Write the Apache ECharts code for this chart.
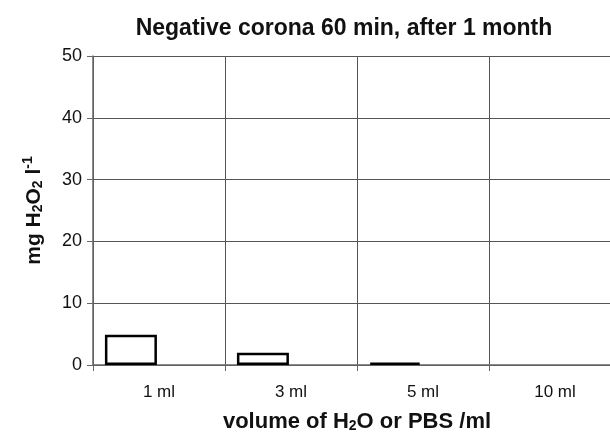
<!DOCTYPE html>
<html>
<head>
<meta charset="utf-8">
<script src="https://cdn.jsdelivr.net/npm/echarts@6/dist/echarts.min.js"></script>
<style>
    html, body { margin: 0; padding: 0; background: #fff; }
    #main { width: 610px; height: 433px; }
</style>
</head>
<body>
<div id="main"></div>
<script>
var categories = ['1 ml', '3 ml', '5 ml', '10 ml'];
var h2oValues = [4.9, 2.0, 0.4, 0];
var emptyValues = [null, null, null, null]; // second bar slot, nothing drawn
var yTicks = [0, 10, 20, 30, 40, 50];

var chart = echarts.init(document.getElementById('main'));
var font = 'Liberation Sans, Arial, sans-serif';

// zero height bars get no outline
var barData = h2oValues.map(function (v) {
    if (v === 0) {
        return { value: v, itemStyle: { borderWidth: 0 } };
    }
    return v;
});

var option = {
    animation: false,
    backgroundColor: '#fff',
    title: {
        text: 'Negative corona 60 min, after 1 month',
        left: 339,
        textAlign: 'center',
        top: 12,
        textStyle: { fontFamily: font, fontSize: 23, fontWeight: 'bold', color: '#111' }
    },
    grid: { left: 93, right: -11, top: 56, bottom: 68, containLabel: false, outerBoundsMode: 'none' },
    xAxis: {
        type: 'category',
        data: categories,
        boundaryGap: true,
        axisLine: { lineStyle: { color: '#666', width: 1.5 } },
        axisTick: { show: true, length: 6, lineStyle: { color: '#666' } },
        axisLabel: { fontFamily: font, fontSize: 17, color: '#111', margin: 19 },
        splitLine: { show: true, lineStyle: { color: '#555', width: 1 } },
        name: 'volume of H{sub|2}O or PBS /ml',
        nameLocation: 'middle',
        nameGap: 45,
        nameTextStyle: {
            fontFamily: font, fontSize: 22, fontWeight: 'bold', color: '#111',
            rich: { sub: { fontFamily: font, fontSize: 14, fontWeight: 'bold', color: '#111', verticalAlign: 'bottom', padding: [9, 0, 0, 0] } }
        }
    },
    yAxis: {
        type: 'value',
        min: yTicks[0],
        max: yTicks[yTicks.length - 1],
        interval: 10,
        axisLine: { show: true, lineStyle: { color: '#666', width: 1.5 } },
        axisTick: { show: true, length: 6, lineStyle: { color: '#666' } },
        axisLabel: { fontFamily: font, fontSize: 18, color: '#111', margin: 11 },
        splitLine: { show: true, lineStyle: { color: '#555', width: 1 } },
        name: 'mg H{sub|2}O{sub|2} l{sup|-1}',
        nameLocation: 'middle',
        nameGap: 46,
        nameTextStyle: {
            fontFamily: font, fontSize: 21, fontWeight: 'bold', color: '#111',
            rich: {
                sub: { fontFamily: font, fontSize: 14, fontWeight: 'bold', color: '#111', padding: [9, 0, 0, 0] },
                sup: { fontFamily: font, fontSize: 14, fontWeight: 'bold', color: '#111', padding: [0, 0, 12, 0] }
            }
        }
    },
    series: [
        {
            name: 'H2O',
            type: 'bar',
            data: barData,
            barWidth: 52,
            barGap: '8%',
            itemStyle: { color: '#fff', borderColor: '#000', borderWidth: 2.5 }
        },
        {
            name: 'empty',
            type: 'bar',
            data: emptyValues,
            barWidth: 52,
            itemStyle: { color: '#fff', borderColor: '#000', borderWidth: 2.5 }
        }
    ]
};

chart.setOption(option);
</script>
</body>
</html>
